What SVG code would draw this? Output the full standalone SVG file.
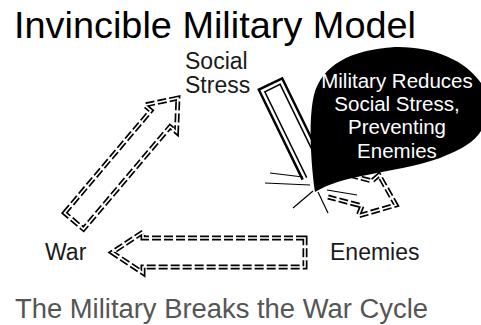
<svg xmlns="http://www.w3.org/2000/svg" width="481" height="325" viewBox="0 0 481 325">
<style>
text{font-family:"Liberation Sans",Arial,sans-serif}
.lbl{font-size:23px;fill:#1a1a1a}
.dashO{fill:none;stroke:#000;stroke-width:5;stroke-dasharray:9 3;stroke-linejoin:miter}
.dashI{fill:none;stroke:#fff;stroke-width:1.6}
.solO{fill:none;stroke:#000;stroke-width:2.5}
.solI{fill:none;stroke:#000;stroke-width:1.5}
.burst{stroke:#000;stroke-width:1.2;fill:none}
.bt{font-size:20.5px;fill:#fff;text-anchor:middle}
</style>
<rect width="481" height="325" fill="#fff"/>
<g id="title"><text x="14" y="38" font-size="36" fill="#000" textLength="402" lengthAdjust="spacingAndGlyphs">Invincible Military Model</text></g>
<g id="connectors">
  <g id="war-to-stress" transform="translate(74,221) rotate(-49.8)">
    <path class="dashO" d="M0,-12.5 L134,-12.5 L134,-21 L161,0 L134,21 L134,12.5 L0,12.5 Z"/>
    <path class="dashI" d="M0,-12.5 L134,-12.5 L134,-21 L161,0 L134,21 L134,12.5 L0,12.5 Z"/>
  </g>
  <g id="stress-to-enemies">
    <g transform="translate(270.5,84) rotate(64)">
      <path class="solO" d="M100,13 L0,13 L0,-13 L100,-13"/>
      <path class="solI" d="M100,8.5 L4.5,8.5 L4.5,-8.5 L100,-8.5"/>
    </g>
    <path class="dashO" d="M338,172 L372,181 L379,175 L396,205 L358,216 L362,206 L328,197"/>
    <path class="dashI" d="M338,172 L372,181 L379,175 L396,205 L358,216 L362,206 L328,197"/>
  </g>
  <g id="enemies-to-war">
    <path class="dashO" d="M305,238 L143,238 L143,232 L112,252.5 L143,273 L143,267 L305,267 Z"/>
    <path class="dashI" d="M305,238 L143,238 L143,232 L112,252.5 L143,273 L143,267 L305,267 Z"/>
  </g>
</g>
<g id="social-stress">
  <text class="lbl" x="185" y="69" fill="#000">Social</text>
  <text class="lbl" x="185" y="93" fill="#000">Stress</text>
</g>
<g id="war"><text class="lbl" x="45" y="260">War</text></g>
<g id="enemies"><text class="lbl" x="330" y="260">Enemies</text></g>
<g id="callout">
  <g class="burst">
    <line x1="270" y1="173" x2="303" y2="177"/>
    <line x1="265" y1="183" x2="310" y2="185"/>
    <line x1="293" y1="208" x2="313" y2="191"/>
    <line x1="318" y1="192" x2="328" y2="213"/>
    <line x1="327" y1="190" x2="357" y2="195"/>
  </g>
  <path fill="#000" d="M315,192 C311,165 308,120 314,95 C322,65 350,50 395,47 C435,46 470,62 484,88 L484,125 C478,140 465,148 440,158 C415,167 390,170 367,175 C345,179 328,184 315,192 Z"/>
  <text class="bt" x="397" y="88">Military Reduces</text>
  <text class="bt" x="397" y="111">Social Stress,</text>
  <text class="bt" x="397" y="134">Preventing</text>
  <text class="bt" x="397" y="157.5">Enemies</text>
</g>
<g id="caption"><text x="15" y="318" font-size="27" fill="#555" textLength="413" lengthAdjust="spacingAndGlyphs">The Military Breaks the War Cycle</text></g>
</svg>
